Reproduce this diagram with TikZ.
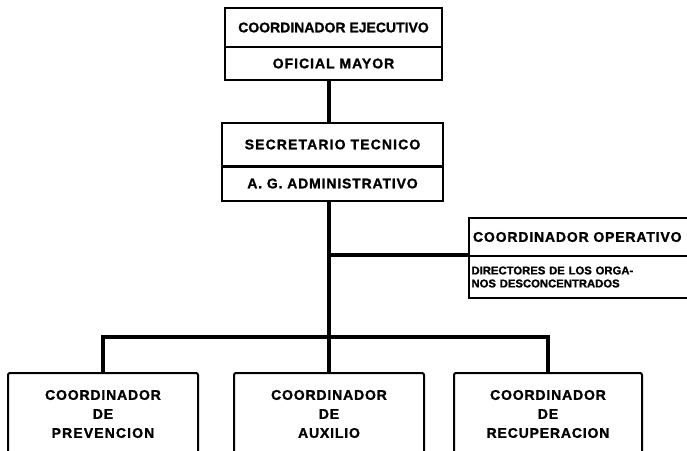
\documentclass[tikz,border=0pt]{standalone}
\usepackage{fontspec}
\setmainfont{Liberation Sans}[BoldFeatures={FakeBold=1.2}]
\begin{document}
\begin{tikzpicture}[x=1pt,y=-1pt,
  box/.style={draw, line width=2pt, inner sep=0pt, font=\bfseries\fontsize{14}{17}\selectfont},
  bbox/.style={box, rounded corners=2pt, minimum height=82, align=center, font=\bfseries\fontsize{14}{19}\selectfont},
  conn/.style={line width=3.2pt}]
\useasboundingbox (0,0) rectangle (687,450);
\clip (0,0) rectangle (687,450);
% top box
\node[box, minimum width=217, minimum height=39] (ce) at (333.5,27.5) {COORDINADOR EJECUTIVO};
\node[box, minimum width=217, minimum height=33] (om) at (333.5,63.5) {\addfontfeatures{LetterSpace=7}OFICIAL MAYOR};
% second box
\node[box, minimum width=221, minimum height=43] (st) at (332.5,144.5) {\addfontfeatures{LetterSpace=8}SECRETARIO TECNICO};
\node[box, minimum width=221, minimum height=34] (ag) at (332.5,183.5) {\addfontfeatures{LetterSpace=6}A. G. ADMINISTRATIVO};
% right box
\node[box, anchor=north west, minimum width=250, minimum height=38, text width=242, align=left, inner xsep=4pt] (cop) at (468,217) {\addfontfeatures{LetterSpace=6}COORDINADOR OPERATIVO};
\node[box, anchor=north west, minimum width=250, minimum height=42, text width=245, align=left, inner xsep=2pt, font=\bfseries\fontsize{11.3}{13}\selectfont] (dir) at (468,255) {DIRECTORES DE LOS ORGA-\\NOS DESCONCENTRADOS};
% bottom boxes
\node[bbox, minimum width=190] (cp) at (103,414) {\addfontfeatures{LetterSpace=6}COORDINADOR\\\addfontfeatures{LetterSpace=6}DE\\\addfontfeatures{LetterSpace=8}PREVENCION};
\node[bbox, minimum width=190] (ca) at (329,414) {\addfontfeatures{LetterSpace=6}COORDINADOR\\\addfontfeatures{LetterSpace=6}DE\\\addfontfeatures{LetterSpace=6}AUXILIO};
\node[bbox, minimum width=188] (cr) at (548,414) {\addfontfeatures{LetterSpace=6}COORDINADOR\\\addfontfeatures{LetterSpace=6}DE\\\addfontfeatures{LetterSpace=6}RECUPERACION};
% connectors
\coordinate (trunk) at (329,0);
\coordinate (bus) at (329,337);
\draw[conn] (om.south -| trunk) -- (st.north -| trunk);
\draw[conn] (ag.south -| trunk) -- (ca.north);
\draw[conn] (trunk |- dir.north) -- (dir.north west);
\draw[conn] (cp.north) |- (bus) -| (cr.north);
\end{tikzpicture}
\end{document}
